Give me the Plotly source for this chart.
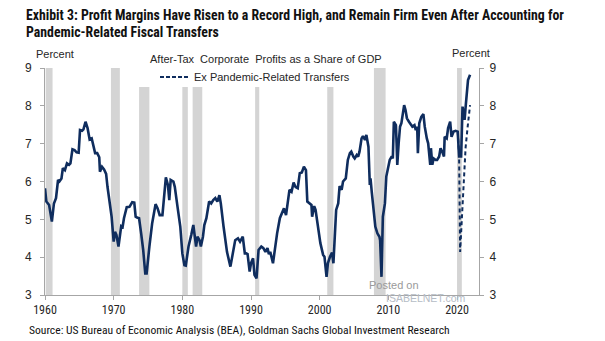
import plotly.graph_objects as go

# ---- data ----
years = [1960.0, 1960.2, 1960.6, 1961.0, 1961.3, 1961.6, 1961.9, 1962.1, 1962.4, 1962.6, 1962.9,
         1963.2, 1963.5, 1963.7, 1964.0, 1964.3, 1964.6, 1964.9, 1965.1, 1965.4, 1965.6, 1965.9,
         1966.2, 1966.5, 1966.8, 1967.1, 1967.3, 1967.6, 1967.9, 1968.0, 1968.3, 1968.6, 1968.9,
         1969.1, 1969.4, 1969.7, 1970.0, 1970.2, 1970.4, 1970.7, 1971.1, 1971.3, 1971.5, 1971.9,
         1972.3, 1972.7, 1973.0, 1973.2, 1973.4, 1973.7, 1974.0, 1974.3, 1974.6, 1974.8, 1975.2,
         1975.6, 1976.1, 1976.4, 1976.7, 1977.1, 1977.6, 1977.9, 1978.1, 1978.3, 1978.7, 1978.9,
         1979.3, 1979.7, 1980.0, 1980.3, 1980.5, 1980.9, 1981.3, 1981.6, 1982.0, 1982.2, 1982.5,
         1982.7, 1983.0, 1983.2, 1983.5, 1983.9, 1984.2, 1984.5, 1984.8, 1985.1, 1985.4, 1985.6,
         1986.0, 1986.5, 1987.0, 1987.3, 1987.7, 1988.1, 1988.4, 1988.8, 1989.1, 1989.3, 1989.5,
         1989.8, 1990.0, 1990.3, 1990.5, 1990.8, 1991.1, 1991.5, 1991.8, 1992.1, 1992.4, 1992.6,
         1992.8, 1993.2, 1993.5, 1993.8, 1994.2, 1994.5, 1994.8, 1995.1, 1995.4, 1995.6, 1995.9,
         1996.2, 1996.5, 1996.8, 1997.1, 1997.4, 1997.7, 1998.0, 1998.2, 1998.5, 1998.8, 1998.9,
         1999.2, 1999.4, 1999.8, 2000.1, 2000.5, 2000.7, 2001.0, 2001.2, 2001.5, 2001.8, 2002.0,
         2002.2, 2002.4, 2002.7, 2002.9, 2003.2, 2003.4, 2003.8, 2004.1, 2004.4, 2004.6, 2004.9,
         2005.1, 2005.4, 2005.6, 2005.8, 2006.1, 2006.3, 2006.6, 2006.8, 2007.1, 2007.3, 2007.4,
         2007.6, 2007.9, 2008.1, 2008.4, 2008.7, 2008.8, 2009.0, 2009.2, 2009.5, 2009.7, 2010.0,
         2010.2, 2010.5, 2010.65, 2010.8, 2011.1, 2011.2, 2011.3, 2011.5, 2011.7, 2011.9, 2012.3,
         2012.5, 2012.7, 2013.0, 2013.3, 2013.5, 2013.8, 2014.0, 2014.2, 2014.3, 2014.5, 2014.8,
         2015.1, 2015.3, 2015.6, 2015.8, 2016.1, 2016.2, 2016.4, 2016.6, 2016.9, 2017.1, 2017.4,
         2017.6, 2017.9, 2018.1, 2018.2, 2018.5, 2018.7, 2019.0, 2019.2, 2019.5, 2019.8, 2020.1,
         2020.3, 2020.6, 2020.8, 2021.1, 2021.3, 2021.6, 2021.9]
profits = [5.82, 5.47, 5.38, 4.94, 5.42, 5.56, 6.04, 6.00, 6.08, 6.35, 6.30,
           6.48, 6.44, 6.48, 6.85, 6.83, 6.77, 6.76, 7.36, 7.34, 7.38, 7.58,
           7.41, 7.11, 7.14, 6.92, 6.75, 6.75, 6.64, 6.26, 6.39, 6.32, 6.20,
           5.86, 5.42, 5.07, 4.41, 4.67, 4.59, 4.28, 4.82, 4.80, 5.03, 5.32,
           5.33, 5.45, 5.44, 5.07, 5.05, 5.03, 4.63, 4.19, 3.57, 3.57, 4.28,
           4.89, 5.40, 5.29, 5.11, 5.11, 6.11, 5.91, 5.51, 6.04, 6.00, 5.86,
           5.33, 4.81, 4.10, 3.79, 3.78, 4.28, 4.59, 4.85, 4.28, 4.54, 4.45,
           4.28, 4.54, 4.85, 5.03, 5.47, 5.42, 5.51, 5.56, 5.47, 5.64, 5.42,
           4.81, 4.14, 3.75, 4.01, 4.45, 4.50, 4.41, 4.54, 4.10, 4.10, 4.08,
           3.62, 3.84, 3.97, 3.53, 3.44, 4.19, 4.28, 4.24, 4.14, 4.24, 4.08,
           4.14, 3.84, 4.28, 4.63, 5.03, 5.16, 5.29, 5.11, 5.51, 5.78, 5.73,
           5.97, 5.85, 5.82, 6.22, 6.24, 6.39, 6.30, 5.47, 5.42, 5.38, 5.07,
           5.35, 5.25, 4.81, 4.37, 4.06, 4.01, 3.48, 3.84, 4.01, 4.12, 3.84,
           4.63, 5.25, 5.42, 5.88, 5.78, 6.00, 6.08, 6.57, 6.75, 6.79, 6.66,
           6.61, 6.70, 6.66, 6.79, 7.14, 7.20, 7.10, 7.23, 6.92, 5.91, 6.08,
           5.69, 5.25, 4.81, 4.63, 4.54, 4.45, 3.48, 5.07, 5.42, 6.13, 6.39,
           6.57, 6.66, 6.61, 7.58, 7.49, 7.01, 6.44, 7.01, 7.45, 7.54, 8.02,
           7.89, 7.67, 7.58, 7.49, 7.45, 7.49, 7.36, 7.45, 6.75, 7.54, 7.71,
           7.78, 7.45, 7.14, 7.01, 6.44, 6.88, 6.44, 6.61, 6.57, 6.57, 6.66,
           6.88, 6.76, 6.66, 7.18, 7.14, 7.41, 7.58, 7.18, 7.32, 7.34, 7.32,
           6.66, 6.66, 7.98, 7.63, 8.07, 8.68, 8.82]

ex_years = [2020.1, 2020.3, 2020.45, 2020.75, 2020.95, 2021.25, 2021.55, 2021.9]
ex_profits = [7.32, 6.70, 4.14, 5.30, 6.04, 6.90, 7.45, 8.02]

recession_start = [1960.1, 1969.6, 1973.7, 1980.0, 1981.5, 1990.6, 2001.1, 2007.9, 2020.0]
recession_end = [1961.1, 1970.9, 1975.2, 1980.8, 1982.9, 1991.2, 2002.0, 2009.6, 2020.7]
recession_top = [9, 9, 8.5, 8.5, 8.5, 8.5, 8.5, 9, 9]

x_ticks = [1960, 1970, 1980, 1990, 2000, 2010, 2020]
y_ticks = [3, 4, 5, 6, 7, 8, 9]

NAVY = "#0f2d5e"
AXIS = "#a6a6a6"
TXT = "#262626"
COND = "Roboto Condensed, Roboto, sans-serif"
ARIAL = "Liberation Sans, Arial, sans-serif"

fig = go.Figure()

for s, e, t in zip(recession_start, recession_end, recession_top):
    fig.add_shape(type="rect", xref="x", yref="y", x0=s, x1=e, y0=3, y1=t,
                  fillcolor="#d4d4d4", line=dict(width=0), layer="below")

fig.add_trace(go.Scatter(x=years, y=profits, mode="lines",
                         line=dict(color=NAVY, width=2.6), showlegend=False))
fig.add_trace(go.Scatter(x=ex_years, y=ex_profits, mode="lines", yaxis="y2",
                         line=dict(color=NAVY, width=2, dash="4px,3px"), showlegend=False))

fig.update_layout(
    width=605, height=341,
    margin=dict(l=45, r=126, t=68, b=46),
    paper_bgcolor="white", plot_bgcolor="white",
    xaxis=dict(range=[1960, 2023.2], tickvals=x_ticks, ticks="outside", ticklen=4,
               tickcolor=AXIS, showline=True, linecolor=AXIS, linewidth=1,
               showgrid=False, zeroline=False,
               tickfont=dict(family=COND, size=12, color=TXT)),
    yaxis=dict(range=[3, 9], tickvals=y_ticks, ticks="outside", ticklen=4,
               tickcolor=AXIS, showline=True, linecolor=AXIS, linewidth=1,
               showgrid=False, zeroline=False, ticklabelstandoff=6,
               tickfont=dict(family=ARIAL, size=12, color=TXT)),
    yaxis2=dict(range=[3, 9], tickvals=y_ticks, ticks="outside", ticklen=4,
                overlaying="y", side="right", ticklabelstandoff=3,
                tickcolor=AXIS, showline=True, linecolor=AXIS, linewidth=1,
                showgrid=False, zeroline=False,
                tickfont=dict(family=ARIAL, size=12, color=TXT)),
)

def px_x(px):
    return (px - 45) / 434.0

def px_y(py):
    return (295 - py) / 227.0

ann = [
    dict(text="<b>Exhibit 3: Profit Margins Have Risen to a Record High, and Remain Firm Even After Accounting for</b>",
         x=px_x(24), y=px_y(15), xanchor="left", yanchor="middle",
         font=dict(family=COND, size=13.8, color="#111111")),
    dict(text="<b>Pandemic-Related Fiscal Transfers</b>",
         x=px_x(24), y=px_y(32), xanchor="left", yanchor="middle",
         font=dict(family=COND, size=13.8, color="#111111")),
    dict(text="Percent", x=px_x(55), y=px_y(54), xanchor="center", yanchor="middle",
         font=dict(family=ARIAL, size=11, color=TXT)),
    dict(text="Percent", x=px_x(471), y=px_y(53), xanchor="center", yanchor="middle",
         font=dict(family=ARIAL, size=11, color=TXT)),
    dict(text="After-Tax  Corporate  Profits as a Share of GDP", x=px_x(148), y=px_y(59),
         xanchor="left", yanchor="middle", font=dict(family=ARIAL, size=11, color=TXT)),
    dict(text="Ex Pandemic-Related Transfers", x=px_x(192), y=px_y(77),
         xanchor="left", yanchor="middle", font=dict(family=ARIAL, size=11, color=TXT)),
    dict(text="Source: US Bureau of Economic Analysis (BEA), Goldman Sachs Global Investment Research",
         x=px_x(27), y=px_y(330), xanchor="left", yanchor="middle",
         font=dict(family=COND, size=11.6, color="#111111")),
    dict(text="Posted on", x=px_x(367), y=px_y(285), xanchor="left", yanchor="middle",
         font=dict(family=ARIAL, size=11, color="#9a9a9a")),
    dict(text="ISABELNET.com", x=px_x(384), y=px_y(298), xanchor="left", yanchor="middle",
         font=dict(family=ARIAL, size=10.5, color="#b5bcc6")),
]
for a in ann:
    a.update(xref="paper", yref="paper", showarrow=False)
fig.update_layout(annotations=ann)

fig.add_shape(type="line", xref="paper", yref="paper",
              x0=px_x(160), x1=px_x(189), y0=px_y(77), y1=px_y(77),
              line=dict(color=NAVY, width=2, dash="4px,2px"))

fig.write_html("out.html")
